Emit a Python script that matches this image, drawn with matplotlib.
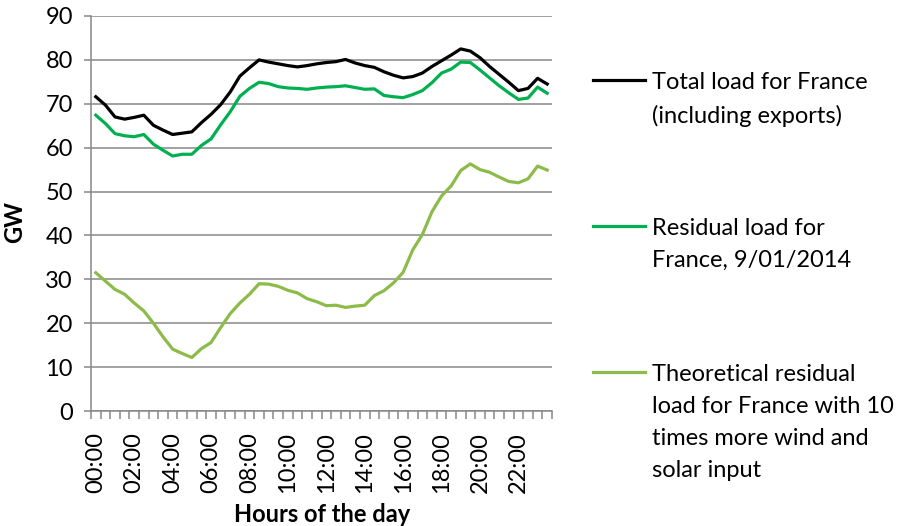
import matplotlib.pyplot as plt
from matplotlib.lines import Line2D
import numpy as np

# half-hour steps over one day
times = [f"{h:02d}:{m:02d}" for h in range(24) for m in (0, 30)]

total_load = [71.6, 69.7, 67.0, 66.5, 66.9, 67.4, 65.1, 64.0, 63.0, 63.3, 63.6, 65.7,
              67.6, 69.8, 72.7, 76.3, 78.2, 80.0, 79.5, 79.1, 78.7, 78.4, 78.7, 79.1,
              79.4, 79.6, 80.1, 79.3, 78.7, 78.3, 77.3, 76.5, 75.9, 76.2, 77.0, 78.5,
              79.8, 81.1, 82.5, 82.0, 80.5, 78.5, 76.7, 74.9, 73.0, 73.5, 75.8, 74.5]

residual_load = [67.4, 65.5, 63.2, 62.7, 62.5, 63.0, 60.8, 59.4, 58.1, 58.5, 58.5, 60.5,
                 62.0, 65.2, 68.2, 71.7, 73.5, 74.9, 74.6, 73.9, 73.6, 73.5, 73.3, 73.6,
                 73.8, 73.9, 74.1, 73.7, 73.3, 73.4, 71.9, 71.6, 71.4, 72.1, 73.0, 74.8,
                 77.0, 77.9, 79.5, 79.4, 77.7, 75.9, 74.1, 72.5, 71.0, 71.3, 73.8, 72.4]

theoretical_load = [31.5, 29.6, 27.7, 26.6, 24.6, 22.8, 20.0, 16.9, 14.1, 13.1, 12.2, 14.2,
                    15.6, 19.0, 22.2, 24.6, 26.6, 29.0, 28.9, 28.4, 27.5, 26.9, 25.6, 24.9,
                    24.0, 24.1, 23.6, 23.9, 24.1, 26.3, 27.4, 29.2, 31.6, 36.7, 40.2, 45.4,
                    49.0, 51.3, 54.8, 56.3, 55.0, 54.4, 53.3, 52.3, 52.0, 52.9, 55.8, 54.9]

labels = ["Total load for France\n(including exports)",
          "Residual load for\nFrance, 9/01/2014",
          "Theoretical residual\nload for France with 10\ntimes more wind and\nsolar input"]
colors = ["#000000", "#00b050", "#8dbb4a"]

plt.rcParams['font.family'] = ['Lato', 'DejaVu Sans']

fig = plt.figure(figsize=(9.04, 5.26), dpi=100)
ax = fig.add_axes([91 / 904, 1 - 411 / 526, (552 - 91) / 904, (411 - 16) / 526])

x = np.arange(len(times))
for series, color in zip([total_load, residual_load, theoretical_load], colors):
    ax.plot(x, series, color=color, lw=2.3, solid_joinstyle='round')

ax.set_xlim(-0.5, len(times) - 0.5)
ax.set_ylim(0, 90)
ax.set_yticks(range(0, 91, 10))
ax.yaxis.grid(True, color="#878787", lw=1.1)
ax.set_axisbelow(True)

# category boundaries carry the tick marks, labels sit at every 4th category
ax.set_xticks(np.arange(-0.5, len(times), 1))
ax.set_xticklabels([])
ax.set_xticks(x[::4], minor=True)
ax.set_xticklabels(times[::4], minor=True, rotation=90, fontsize=17)
ax.tick_params(axis='x', which='major', length=6, color="#878787", width=1.1)
ax.tick_params(axis='x', which='minor', length=0, pad=15)
ax.tick_params(axis='y', length=5, color="#878787", width=1.1, labelsize=17, pad=8)

for side in ['top', 'right']:
    ax.spines[side].set_visible(False)
for side in ['left', 'bottom']:
    ax.spines[side].set_color("#878787")
    ax.spines[side].set_linewidth(1.1)

fig.text(15 / 904, 1 - 222 / 526, "GW", rotation=90, fontsize=17, fontweight='bold',
         ha='center', va='center')
fig.text(322 / 904, 1 - 515 / 526, "Hours of the day", fontsize=17, fontweight='bold',
         ha='center', va='center')

# legend on the right, line sample aligned to first text line
for label, color, y in zip(labels, colors, [80, 226, 372]):
    fy = 1 - y / 526
    fig.add_artist(Line2D([593 / 904, 645 / 904], [fy, fy], color=color, lw=2.3,
                          transform=fig.transFigure))
    fig.text(652 / 904, 1 - (y - 8) / 526, label, fontsize=17, ha='left', va='top',
             linespacing=1.65)

fig.savefig("out.png", dpi=100)
